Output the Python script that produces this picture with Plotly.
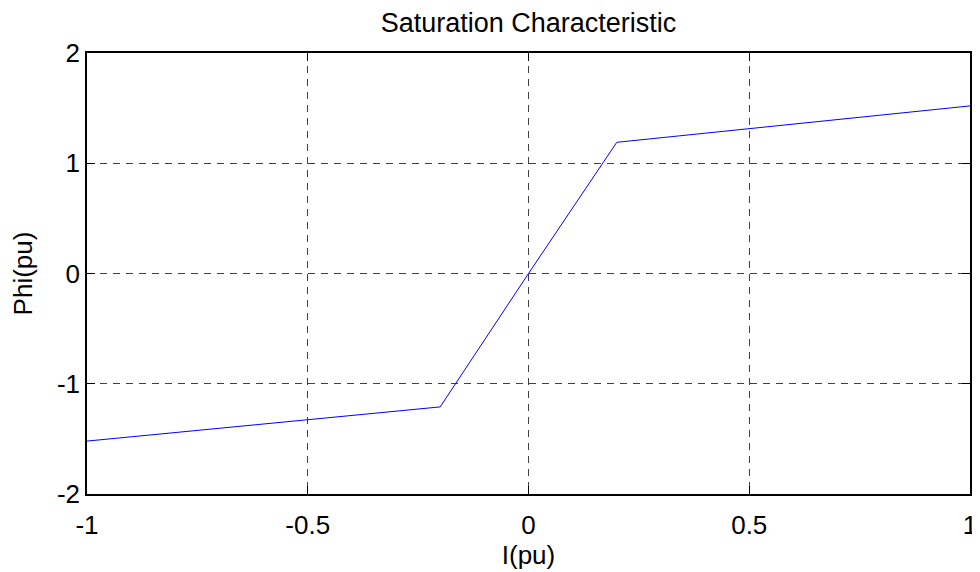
import plotly.graph_objects as go

# saturation curve (I in pu, Phi in pu)
i_pu = [-1, -0.2, 0, 0.2, 1]
phi_pu = [-1.52, -1.21, 0, 1.19, 1.52]

x_ticks = [-1, -0.5, 0, 0.5, 1]
x_labels = ['-1', '-0.5', '0', '0.5', '1']
y_ticks = [-2, -1, 0, 1, 2]
y_labels = ['-2', '-1', '0', '1', '2']

fnt = dict(family='Liberation Sans, Arial', size=26, color='black')

trace = go.Scatter(x=i_pu, y=phi_pu, mode='lines',
                   line=dict(color='#0000ff', width=1), showlegend=False)

# page body has an 8px margin, so the figure is sized/offset for that
layout = go.Layout(
    width=972, height=564,
    paper_bgcolor='white', plot_bgcolor='white',
    margin=dict(l=79, r=10, t=45, b=78),
    title=dict(text='Saturation Characteristic', x=0.5, xref='paper', xanchor='center',
               y=0.975, yanchor='middle', font=dict(family='Liberation Sans, Arial', size=27, color='black')),
    xaxis=dict(range=[-1, 1], tickvals=x_ticks, ticktext=x_labels,
               showline=True, linecolor='black', linewidth=1.5, mirror='ticks',
               ticks='inside', ticklen=8, tickcolor='black',
               showgrid=True, gridcolor='#404040', griddash='7px,6px', gridwidth=1,
               zeroline=False, tickfont=fnt, automargin=False, ticklabelstandoff=7,
               ticklabeloverflow='allow',
               title=dict(text='I(pu)', font=fnt, standoff=0)),
    yaxis=dict(range=[-2, 2], tickvals=y_ticks, ticktext=y_labels,
               showline=True, linecolor='black', linewidth=1.5, mirror='ticks',
               ticks='inside', ticklen=8, tickcolor='black',
               showgrid=True, gridcolor='#404040', griddash='7px,6px', gridwidth=1,
               zeroline=False, tickfont=fnt, automargin=False,
               title=dict(text='Phi(pu)', font=fnt, standoff=19)),
)

fig = go.Figure(data=trace, layout=layout)
fig.write_html('out.html')
